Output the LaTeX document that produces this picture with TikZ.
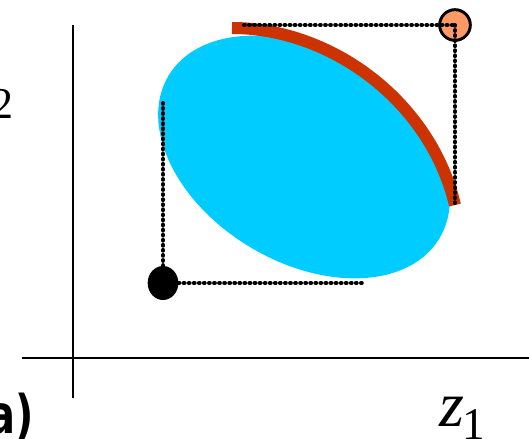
\documentclass[tikz,border=0pt]{standalone}
\usepackage{fontspec}
\setmainfont{Liberation Serif}
\newfontfamily\labelfont{DejaVu Sans}
\usetikzlibrary{shapes.geometric}
\definecolor{blobcyan}{HTML}{00CCFF}
\definecolor{arcred}{HTML}{CC3300}
\definecolor{dotorange}{HTML}{FF9966}
\tikzset{
  axisline/.style={line width=1.5pt, black},
  dotline/.style={black, line width=3pt, line cap=round, dash pattern=on 0.6pt off 3.2pt},
  arcline/.style={line width=9pt, arcred, line cap=butt},
}
\begin{document}
\begin{tikzpicture}[x=0.75pt, y=-0.75pt]
\useasboundingbox (0,0) rectangle (529,439);
% axes
\coordinate (ytop) at (73,25);
\coordinate (ybot) at (73,398);
\coordinate (xl) at (22,358);
\coordinate (xr) at (529,358);
\draw[axisline] (ytop) -- (ybot);
\draw[axisline] (xl) -- (xr);
% region
\node[ellipse, fill=blobcyan, inner sep=0pt, outer sep=0pt,
      minimum width=237pt, minimum height=157.5pt, rotate=-31] (blob) at (304,157) {};
% frontier arc
\coordinate (arcA) at (232,28);
\coordinate (arcB) at (455,205);
\draw[arcline] (arcA) .. controls (330,28) and (430,100) .. (arcB);
% points
\node[circle, fill=dotorange, draw=black, line width=2.2pt, minimum size=23pt, inner sep=0pt] (ideal) at (455,25) {};
\node[ellipse, fill=black, minimum width=23pt, minimum height=25.5pt, inner sep=0pt] (nadir) at (163,283) {};
% dotted guides
\coordinate (h1) at (244,25);
\coordinate (v1) at (455,203);
\coordinate (v2) at (163,103);
\coordinate (h2) at (365,283);
\draw[dotline] (h1) -- (ideal.center);
\draw[dotline] (ideal.center) -- (v1);
\draw[dotline] (v2) -- (nadir.north);
\draw[dotline] (nadir.east) -- (h2);
% labels
\node[anchor=base east, inner sep=0pt, font=\fontsize{33}{33}\selectfont] (lab2) at (14,118) {2};
\node[anchor=base west, inner sep=0pt, font=\fontsize{48}{48}\selectfont] (labz) at (439,426) {\itshape z\kern-1pt\fontsize{34}{34}\selectfont\raisebox{-10pt}{\upshape 1}};
\node[anchor=base west, inner sep=0pt, font=\labelfont\bfseries\fontsize{40}{40}\selectfont] (laba) at (-12,433) {\scalebox{0.75}[1]{a)}};
\end{tikzpicture}
\end{document}
